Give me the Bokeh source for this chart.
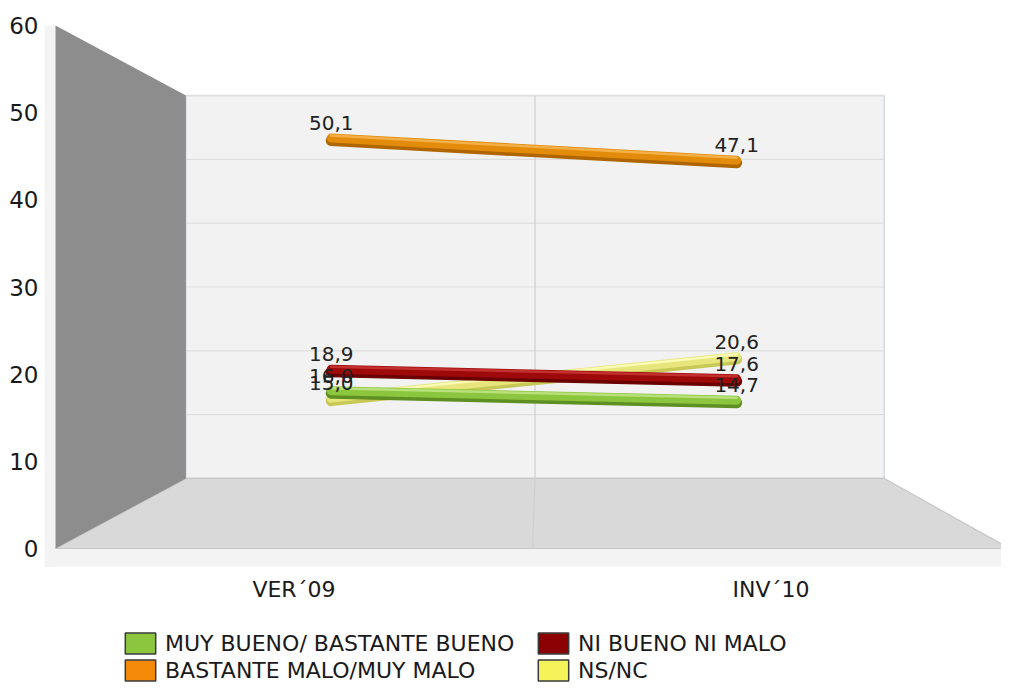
from bokeh.plotting import figure
from bokeh.models import Range1d, FixedTicker, Legend, LegendItem
from bokeh.embed import file_html
from bokeh.resources import INLINE
from bokeh.core.properties import value

# ---------------- data ----------------
categories = ["VER´09", "INV´10"]
series_names = ["MUY BUENO/ BASTANTE BUENO", "BASTANTE MALO/MUY MALO",
                "NI BUENO NI MALO", "NS/NC"]
muy_bueno = [16.0, 14.7]
bastante_malo = [50.1, 47.1]
ni_bueno_ni_malo = [18.9, 17.6]
ns_nc = [15.0, 20.6]
y_ticks = [0, 10, 20, 30, 40, 50, 60]

# ---------------- styles ----------------
FONT = "DejaVu Sans"
series_styles = {
    "MUY BUENO/ BASTANTE BUENO": dict(main="#8cc63e", dark="#5e8f22", light="#b9e07a", legend="#8cc63e"),
    "BASTANTE MALO/MUY MALO": dict(main="#e38c0c", dark="#b06600", light="#f4b048", legend="#f58a0a"),
    "NI BUENO NI MALO": dict(main="#9e0a0a", dark="#6a0000", light="#c43030", legend="#8b0000"),
    "NS/NC": dict(main="#e6e67c", dark="#c8c856", light="#fafab4", legend="#f4f45a"),
}
series_values = {
    "MUY BUENO/ BASTANTE BUENO": muy_bueno,
    "BASTANTE MALO/MUY MALO": bastante_malo,
    "NI BUENO NI MALO": ni_bueno_ni_malo,
    "NS/NC": ns_nc,
}

# ---------------- geometry ----------------
W, H = 1001, 683
PX_PER_X = 477.0
PX_PER_Y = (548 - 25) / 60.0
FRAME_LEFT = 44
ORIGIN_X, ORIGIN_Y = 55, 548          # pixel of (x=0, y=0) on the front plane
x0 = (FRAME_LEFT - ORIGIN_X) / PX_PER_X
x1 = x0 + (W - FRAME_LEFT) / PX_PER_X
y1 = ORIGIN_Y / PX_PER_Y
y0 = y1 - H / PX_PER_Y
STRIP_Y = -18 / PX_PER_Y   # bottom of floor thickness strip / x-axis location

n = len(categories)
xpos = [i + 0.5 for i in range(n)]
YMAX = max(y_ticks)
VX, VY = n / 2 + 0.02, YMAX / 2
K_BACK, K_LINE = 0.732, 0.85


def proj(x, y, k):
    return VX + k * (x - VX), VY + k * (y - VY)


p = figure(width=W, height=H, x_range=Range1d(x0, x1), y_range=Range1d(y0, y1),
           output_backend="svg", toolbar_location=None,
           min_border_left=FRAME_LEFT, min_border_right=0, min_border_top=0,
           min_border_bottom=0)
p.grid.visible = False
p.outline_line_color = None
p.background_fill_color = "white"
p.border_fill_color = "white"

# light strips (wall/floor thickness)
p.quad(left=[x0, x0], right=[0, n], bottom=[STRIP_Y, STRIP_Y], top=[YMAX, 0],
       fill_color="#f3f3f3", line_color=None)

# back wall
bw = [proj(0, 0, K_BACK), proj(n, 0, K_BACK), proj(n, YMAX, K_BACK), proj(0, YMAX, K_BACK)]
p.patch([q[0] for q in bw], [q[1] for q in bw], fill_color="#f2f2f2",
        line_color="#d6dce2", line_width=1.5)

# back-wall gridlines
gx, gy = [], []
for t in y_ticks[1:]:
    a = proj(0, t, K_BACK)
    b = proj(n, t, K_BACK)
    gx.append([a[0], b[0]])
    gy.append([a[1], b[1]])
p.multi_line(gx, gy, line_color="#dedede", line_width=1.2)

# floor
fl = [proj(0, 0, 1), proj(n, 0, 1), proj(n, 0, K_BACK), proj(0, 0, K_BACK)]
p.patch([q[0] for q in fl], [q[1] for q in fl], fill_color="#d9d9d9",
        line_color="#c6c6c6", line_width=1.2)

# category divider line (back wall + floor)
dv = [proj(1, YMAX, K_BACK), proj(1, 0, K_BACK), proj(1, 0, 1)]
p.line([q[0] for q in dv], [q[1] for q in dv], line_color="#cfcfcf", line_width=1.2)

# left wall
lw = [proj(0, 0, 1), proj(0, YMAX, 1), proj(0, YMAX, K_BACK), proj(0, 0, K_BACK)]
p.patch([q[0] for q in lw], [q[1] for q in lw], fill_color="#8d8d8d", line_color=None)

# ---------------- series ribbons ----------------
draw_order = ["NS/NC", "MUY BUENO/ BASTANTE BUENO", "NI BUENO NI MALO", "BASTANTE MALO/MUY MALO"]
dpx = 1.0 / PX_PER_Y
for name in draw_order:
    vals = series_values[name]
    st = series_styles[name]
    pts = [proj(x, v, K_LINE) for x, v in zip(xpos, vals)]
    xs = [q[0] for q in pts]
    ys = [q[1] for q in pts]
    p.line(xs, [y - 2.5 * dpx for y in ys], line_color=st["dark"], line_width=11, line_cap="round")
    p.line(xs, ys, line_color=st["main"], line_width=9, line_cap="round")
    p.line(xs, [y + 2.5 * dpx for y in ys], line_color=st["light"], line_width=2.5, line_cap="round")

# data labels
lx, ly, lt = [], [], []
for name in draw_order:
    for x, v in zip(xpos, series_values[name]):
        q = proj(x, v, K_LINE)
        lx.append(q[0])
        ly.append(q[1])
        lt.append(f"{v:.1f}".replace(".", ","))
p.text(x=lx, y=ly, text=lt, text_align="center", text_baseline="bottom", y_offset=-8,
       text_font=value(FONT), text_font_size="20px", text_color="#222222")

# ---------------- axes ----------------
p.yaxis.ticker = FixedTicker(ticks=y_ticks)
p.yaxis.axis_line_color = None
p.yaxis.major_tick_line_color = None
p.yaxis.minor_tick_line_color = None
p.yaxis.major_label_text_font = FONT
p.yaxis.major_label_text_font_size = "23px"
p.yaxis.major_label_text_color = "#1a1a1a"
p.yaxis.major_label_standoff = 0

p.xaxis.ticker = FixedTicker(ticks=xpos)
p.xaxis.major_label_overrides = {x: c for x, c in zip(xpos, categories)}
p.xaxis.fixed_location = STRIP_Y
p.xaxis.axis_line_color = None
p.xaxis.major_tick_line_color = None
p.xaxis.minor_tick_line_color = None
p.xaxis.major_label_text_font = FONT
p.xaxis.major_label_text_font_size = "22px"
p.xaxis.major_label_text_color = "#1a1a1a"
p.xaxis.major_label_standoff = 4

# ---------------- legend ----------------
nan = float("nan")
items = []
legend_order = ["MUY BUENO/ BASTANTE BUENO", "BASTANTE MALO/MUY MALO", "NI BUENO NI MALO", "NS/NC"]
for name in legend_order:
    r = p.quad(left=[nan], right=[nan], top=[nan], bottom=[nan],
               fill_color=series_styles[name]["legend"],
               line_color="#3a3a3a", line_width=1.5)
    items.append(LegendItem(label=name, renderers=[r]))

legend = Legend(items=items, ncols=2, location=(77, 0),
                glyph_width=38, glyph_height=26, label_height=26, label_width=368,
                label_standoff=6, spacing=1, padding=0, margin=0,
                label_text_font=FONT, label_text_font_size="22px", label_text_color="#1a1a1a",
                background_fill_alpha=0, border_line_color=None)
p.add_layout(legend, "center")

open("out.html", "w").write(file_html(p, INLINE))
